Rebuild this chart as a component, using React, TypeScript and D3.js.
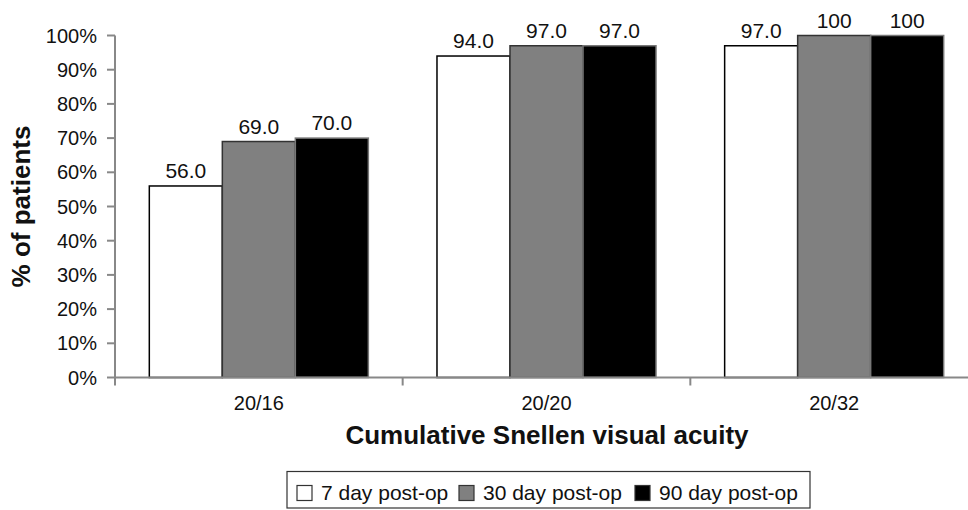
import React from "react";
import * as d3 from "d3";

const categories = ["20/16", "20/20", "20/32"];
const seriesNames = ["7 day post-op", "30 day post-op", "90 day post-op"];
const day7 = [56.0, 94.0, 97.0];
const day30 = [69.0, 97.0, 100];
const day90 = [70.0, 97.0, 100];
const valueLabels = [
  ["56.0", "94.0", "97.0"],
  ["69.0", "97.0", "100"],
  ["70.0", "97.0", "100"],
];
const yTicks = [0, 10, 20, 30, 40, 50, 60, 70, 80, 90, 100];
const fills = ["#ffffff", "#808080", "#000000"];

export default function App() {
  const W = 968, H = 510;
  const left = 115, right = 978, top = 35.5, bottom = 377.5;
  const series = [day7, day30, day90];
  const x = d3.scaleBand<string>().domain(categories).range([left, right]).paddingInner(0).paddingOuter(0);
  const inner = d3.scaleBand<number>().domain([0, 1, 2]).range([0, x.bandwidth()]).paddingInner(0).paddingOuter(0.47);
  const y = d3.scaleLinear().domain([0, 100]).range([bottom, top]);
  const font = "'Liberation Sans', Arial, sans-serif";
  const legendItems = seriesNames.map((n, i) => ({ n, i }));
  const legX = [297, 459, 635];
  return (
    <svg width={W} height={H} style={{ position: "absolute", left: 0, top: 0, background: "#fff" }} fontFamily={font}>
      {/* y axis */}
      <line x1={left} x2={left} y1={top} y2={bottom + 8} stroke="#888" strokeWidth={2} />
      {yTicks.map((t) => (
        <g key={t}>
          <line x1={left - 8} x2={left} y1={y(t)} y2={y(t)} stroke="#888" strokeWidth={2} />
          <text x={97} y={y(t)} dy="0.35em" textAnchor="end" fontSize={20} fill="#111">
            {t}%
          </text>
        </g>
      ))}
      {/* bars */}
      {categories.map((c, ci) =>
        series.map((s, si) => (
          <rect
            key={c + si}
            x={(x(c) as number) + (inner(si) as number)}
            y={y(s[ci])}
            width={inner.bandwidth()}
            height={bottom - y(s[ci])}
            fill={fills[si]}
            stroke={si === 0 ? "#000" : si === 1 ? "#333" : "#777"}
            strokeWidth={1.5}
          />
        ))
      )}
      {/* value labels */}
      {categories.map((c, ci) =>
        series.map((s, si) => (
          <text
            key={"l" + c + si}
            x={(x(c) as number) + (inner(si) as number) + inner.bandwidth() / 2}
            y={y(s[ci]) - 8}
            textAnchor="middle"
            fontSize={21}
            fill="#111"
          >
            {valueLabels[si][ci]}
          </text>
        ))
      )}
      {/* x axis */}
      <line x1={left} x2={W} y1={bottom} y2={bottom} stroke="#888" strokeWidth={2} />
      {categories.map((c) => (
        <line key={"t" + c} x1={(x(c) as number) + x.bandwidth()} x2={(x(c) as number) + x.bandwidth()} y1={bottom} y2={bottom + 8} stroke="#888" strokeWidth={2} />
      ))}
      {categories.map((c) => (
        <text key={"c" + c} x={(x(c) as number) + x.bandwidth() / 2} y={410} textAnchor="middle" fontSize={20} fill="#111">
          {c}
        </text>
      ))}
      <text x={547} y={444} textAnchor="middle" fontSize={26} fontWeight="bold" fill="#111">
        Cumulative Snellen visual acuity
      </text>
      <text transform={`translate(30,${(top + bottom) / 2}) rotate(-90)`} textAnchor="middle" fontSize={26} fontWeight="bold" fill="#111">
        % of patients
      </text>
      {/* legend */}
      <rect x={287} y={471.5} width={523} height={36.5} fill="#fff" stroke="#333" strokeWidth={1.2} />
      {legendItems.map(({ n, i }) => (
        <g key={n}>
          <rect x={legX[i]} y={485.5} width={15} height={15} fill={fills[i]} stroke="#333" strokeWidth={1.2} />
          <text x={legX[i] + 24} y={500} fontSize={21} fill="#111">
            {n}
          </text>
        </g>
      ))}
    </svg>
  );
}
